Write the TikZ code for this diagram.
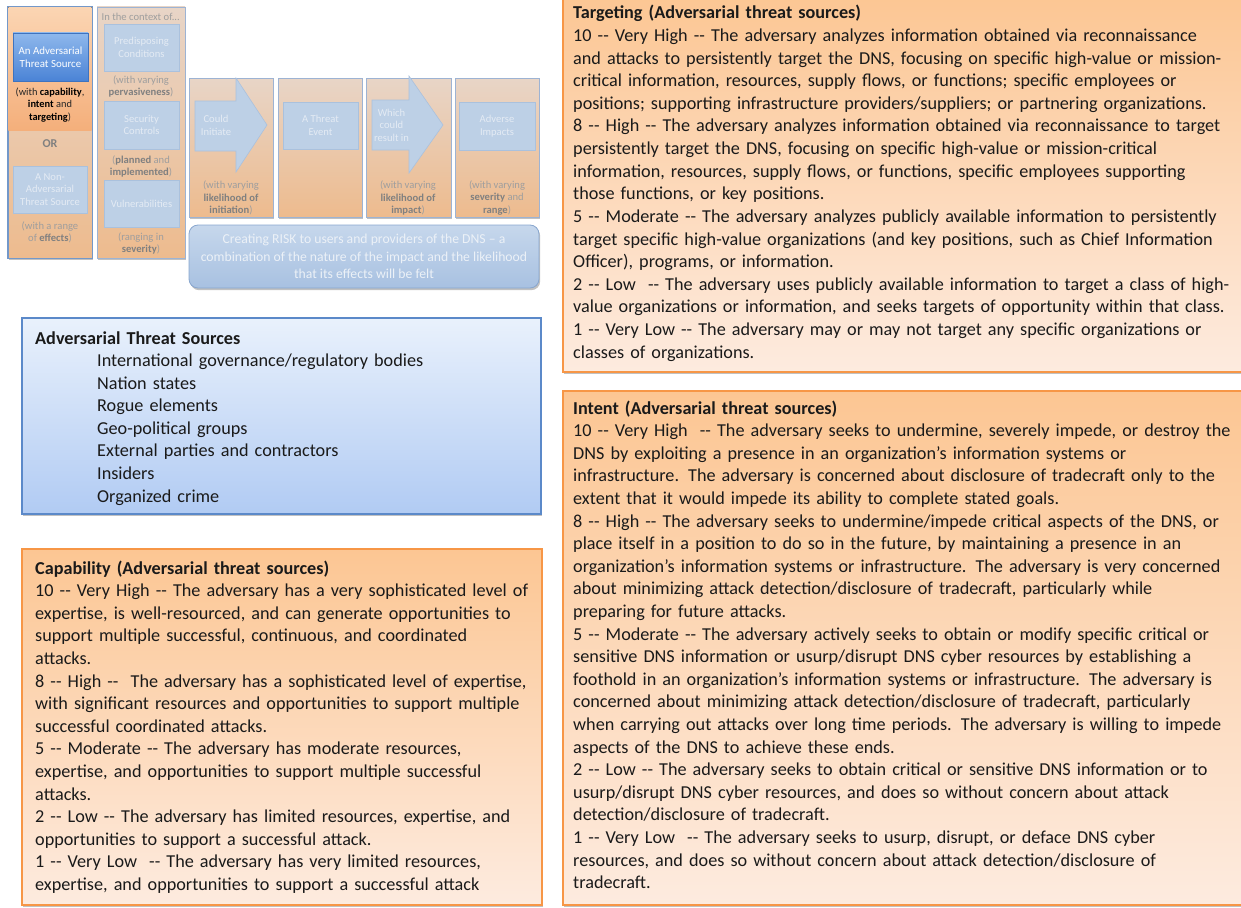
\documentclass[tikz,border=0pt]{standalone}
\usepackage{fontspec}
\setmainfont{Carlito}
\usetikzlibrary{shadows}
\newcommand\dd{-\kern0pt-}
\newcommand\smf{\fontsize{10.6}{12.6}\selectfont}
\newcommand\bigf{\fontsize{18.2}{22.6}\selectfont}
\definecolor{orB}{HTML}{F79646}
\definecolor{orTop}{HTML}{FCC693}
\definecolor{orBot}{HTML}{FDEBDF}
\definecolor{blB}{HTML}{5B89C9}
\definecolor{blTop}{HTML}{E9F1FC}
\definecolor{blBot}{HTML}{B1CBF3}
\definecolor{tanT}{HTML}{E8D5C7}
\definecolor{tanB}{HTML}{EDBB8E}
\definecolor{colB}{HTML}{9DB3D3}
\definecolor{c1B}{HTML}{7398C9}
\definecolor{c1T}{HTML}{FBD5B3}
\definecolor{c1Bo}{HTML}{F4AF7B}
\definecolor{abT}{HTML}{8FB8EC}
\definecolor{abB}{HTML}{4A83D6}
\definecolor{abD}{HTML}{3F73BE}
\definecolor{fbF}{HTML}{BDD0E6}
\definecolor{fbB}{HTML}{AAC1DD}
\definecolor{fbT}{HTML}{E4EBF4}
\definecolor{capT}{HTML}{9E9E9E}
\definecolor{capB}{HTML}{808080}
\definecolor{rkT}{HTML}{C6D7EC}
\definecolor{rkB}{HTML}{A8C1E1}
\definecolor{rkD}{HTML}{88A6CE}
\definecolor{txt}{HTML}{1A1A1A}
\newcommand\B[1]{\textbf{\color{capB}#1}}
\begin{document}
\begin{tikzpicture}[x=1pt,y=-1pt,
  shad/.style={drop shadow={shadow xshift=1.2pt,shadow yshift=-2.2pt,opacity=.35,fill=black!70}},
  colbox/.style={draw=colB,line width=0.8pt,top color=tanT,bottom color=tanB,inner sep=0,shad},
  fbox/.style={draw=fbB,line width=0.6pt,fill=fbF,text=fbT,font=\smf,align=center,inner sep=0},
  captxt/.style={text=capT,font=\smf,align=center,inner sep=0},
  obox/.style={draw=orB,line width=1.5pt,top color=orTop,bottom color=orBot,inner sep=0,shad},
  bbox/.style={draw=blB,line width=1.2pt,top color=blTop,bottom color=blBot,inner sep=0,shad},
  bigtxt/.style={anchor=base west,text width=700pt,align=left,inner sep=0,font=\bigf,text=txt},
  barrow/.style={draw=fbB,line width=0.6pt,fill=fbF}]
\useasboundingbox (0,0) rectangle (1241,907);

% ---------- left diagram ----------
\node[colbox,draw=c1B,minimum width=84,minimum height=251] (c1) at (50,132.5) {};
\fill[top color=c1T,bottom color=c1Bo] (8.4,7.4) rectangle (91.6,130);
\draw[c1B,line width=0.8pt] (c1.north west) rectangle (c1.south east);
\node[draw=abD,line width=0.7pt,top color=abT,bottom color=abB,text=white,font=\fontsize{10.9}{12.8}\selectfont,align=center,inner sep=0,minimum width=75,minimum height=48] (adv) at (50.5,57) {An Adversarial\\Threat Source};
\node[align=center,inner sep=0,font=\fontsize{10.4}{12.6}\selectfont,text=black!85] (advcap) at (50,105) {(with \textbf{\color{black}capability},\\\textbf{\color{black}intent} and\\\textbf{\color{black}targeting})};
\node[text=capB,font=\bfseries\fontsize{12}{13}\selectfont,inner sep=0] (or) at (50,143.5) {OR};
\node[fbox,minimum width=74,minimum height=47] (nonadv) at (50,189.5) {A Non-\\Adversarial\\Threat Source};
\node[captxt] (nonadvcap) at (50,232.5) {(with a range\\of \B{effects})};

\node[colbox,minimum width=88,minimum height=251] (c2) at (141,132.5) {};
\node[captxt,anchor=west] (ctx) at (101.5,17) {In the context of...};
\node[fbox,minimum width=75,minimum height=47] (pre) at (141.5,47.5) {Predisposing\\Conditions};
\node[captxt] (precap) at (141,86.5) {(with varying\\\B{pervasiveness})};
\node[fbox,minimum width=75,minimum height=48] (sec) at (141.5,125) {Security\\Controls};
\node[captxt] (seccap) at (141,166.5) {(\B{planned} and\\\B{implemented})};
\node[fbox,minimum width=75,minimum height=47] (vul) at (141.5,203.5) {Vulnerabilities};
\node[captxt] (vulcap) at (141,243.5) {(ranging in\\\B{severity})};

\node[colbox,minimum width=84,minimum height=139] (c3) at (231,147.5) {};
\filldraw[barrow] (195,101) -- (236,101) -- (236,78) -- (267,125) -- (236,172) -- (236,151) -- (195,151) -- cycle;
\node[captxt,text=fbT] (could) at (216,125.5) {Could\\Initiate};
\node[captxt] (c3cap) at (231,198) {(with varying\\\B{likelihood of}\\\B{initiation})};

\node[colbox,minimum width=84,minimum height=139] (c4) at (320,147.5) {};
\node[fbox,minimum width=75,minimum height=47] (event) at (320.5,125.5) {A Threat\\Event};

\node[colbox,minimum width=85,minimum height=139] (c5) at (408.5,147.5) {};
\filldraw[barrow] (372,100) -- (409,100) -- (409,76) -- (443,125) -- (409,173) -- (409,150) -- (372,150) -- cycle;
\node[captxt,text=fbT] (which) at (391.5,125) {Which\\could\\result in};
\node[captxt] (c5cap) at (408,198) {(with varying\\\B{likelihood of}\\\B{impact})};

\node[colbox,minimum width=84,minimum height=139] (c6) at (497,147.5) {};
\node[fbox,minimum width=76,minimum height=48] (impact) at (497,126) {Adverse\\Impacts};
\node[captxt] (c6cap) at (497,198) {(with varying\\\B{severity} and\\\B{range})};

\node[draw=rkD,line width=0.8pt,top color=rkT,bottom color=rkB,rounded corners=9,minimum width=350,minimum height=63,inner sep=0,shad,text=fbT!70!white,font=\fontsize{13.7}{17.4}\selectfont,align=center] (risk) at (364,256.5) {Creating RISK to users and providers of the DNS – a\\combination of the nature of the impact and the likelihood\\that its effects will be felt};

% ---------- Adversarial threat sources ----------
\node[bbox,minimum width=519,minimum height=196] (advbox) at (281.5,416) {};
\node[bigtxt] (advtitle) at (35,344) {\textbf{Adversarial Threat Sources}};
\node[bigtxt] (advlist) at (97,366.5) {International governance/regulatory bodies\\Nation states\\Rogue elements\\Geo-political groups\\External parties and contractors\\Insiders\\Organized crime};

% ---------- Capability ----------
\node[obox,minimum width=520,minimum height=356] (capbox) at (282,727) {};
\node[bigtxt] (captext) at (35,574) {\textbf{Capability (Adversarial threat sources)}\\
10 \dd{} Very High \dd{} The adversary has a very sophisticated level of\\
expertise, is well-resourced, and can generate opportunities to\\
support multiple successful, continuous, and coordinated\\
attacks.\\
8 \dd{} High \dd~ The adversary has a sophisticated level of expertise,\\
with significant resources and opportunities to support multiple\\
successful coordinated attacks.\\
5 \dd{} Moderate \dd{} The adversary has moderate resources,\\
expertise, and opportunities to support multiple successful\\
attacks.\\
2 \dd{} Low \dd{} The adversary has limited resources, expertise, and\\
opportunities to support a successful attack.\\
1 \dd{} Very Low~ \dd{} The adversary has very limited resources,\\
expertise, and opportunities to support a successful attack};

% ---------- Targeting ----------
\node[obox,minimum width=684,minimum height=378] (tgtbox) at (905,183) {};
\node[bigtxt] (tgttext) at (573,19) {\textbf{Targeting (Adversarial threat sources)}\\
10 \dd{} Very High \dd{} The adversary analyzes information obtained via reconnaissance\\
and attacks to persistently target the DNS, focusing on specific high-value or mission-\\
critical information, resources, supply flows, or functions; specific employees or\\
positions; supporting infrastructure providers/suppliers; or partnering organizations.\\
8 \dd{} High \dd{} The adversary analyzes information obtained via reconnaissance to target\\
persistently target the DNS, focusing on specific high-value or mission-critical\\
information, resources, supply flows, or functions, specific employees supporting\\
those functions, or key positions.\\
5 \dd{} Moderate \dd{} The adversary analyzes publicly available information to persistently\\
target specific high-value organizations (and key positions, such as Chief Information\\
Officer), programs, or information.\\
2 \dd{} Low~ \dd{} The adversary uses publicly available information to target a class of high-\\
value organizations or information, and seeks targets of opportunity within that class.\\
1 \dd{} Very Low \dd{} The adversary may or may not target any specific organizations or\\
classes of organizations.};

% ---------- Intent ----------
\node[obox,minimum width=684,minimum height=514] (intbox) at (905,648) {};
\node[bigtxt] (inttext) at (573,414) {\textbf{Intent (Adversarial threat sources)}\\
10 \dd{} Very High~ \dd{} The adversary seeks to undermine, severely impede, or destroy the\\
DNS by exploiting a presence in an organization's information systems or\\
infrastructure. The adversary is concerned about disclosure of tradecraft only to the\\
extent that it would impede its ability to complete stated goals.\\
8 \dd{} High \dd{} The adversary seeks to undermine/impede critical aspects of the DNS, or\\
place itself in a position to do so in the future, by maintaining a presence in an\\
organization's information systems or infrastructure. The adversary is very concerned\\
about minimizing attack detection/disclosure of tradecraft, particularly while\\
preparing for future attacks.\\
5 \dd{} Moderate \dd{} The adversary actively seeks to obtain or modify specific critical or\\
sensitive DNS information or usurp/disrupt DNS cyber resources by establishing a\\
foothold in an organization's information systems or infrastructure. The adversary is\\
concerned about minimizing attack detection/disclosure of tradecraft, particularly\\
when carrying out attacks over long time periods. The adversary is willing to impede\\
aspects of the DNS to achieve these ends.\\
2 \dd{} Low \dd{} The adversary seeks to obtain critical or sensitive DNS information or to\\
usurp/disrupt DNS cyber resources, and does so without concern about attack\\
detection/disclosure of tradecraft.\\
1 \dd{} Very Low~ \dd{} The adversary seeks to usurp, disrupt, or deface DNS cyber\\
resources, and does so without concern about attack detection/disclosure of\\
tradecraft.};
\end{tikzpicture}
\end{document}
